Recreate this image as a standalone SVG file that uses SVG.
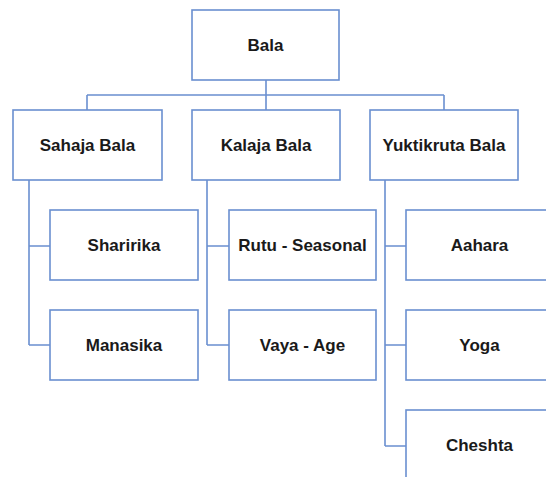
<svg xmlns="http://www.w3.org/2000/svg" width="546" height="477" viewBox="0 0 546 477">
<style>
.box{fill:#fff;stroke:#6a8fd0;stroke-width:1.6}
.lbl{font-family:"Liberation Sans",Arial,sans-serif;font-weight:700;font-size:17px;fill:#1a1a1a;text-anchor:middle;dominant-baseline:central}
.con{fill:none;stroke:#6a8fd0;stroke-width:1.6}
</style>
<rect width="546" height="477" fill="#fff"/>
<g id="connectors">
<path class="con" d="M266 80V95M87 95H444M87 95V110M266 95V110M444 95V110"/>
<path class="con" d="M29 180V345M29 246H50M29 345H50"/>
<path class="con" d="M207 180V345M207 246H229M207 345H229"/>
<path class="con" d="M385 180V446M385 246H406M385 345H406M385 446H406"/>
</g>
<g id="bala"><rect class="box" x="192" y="10" width="147" height="70"/><text class="lbl" x="265.5" y="45">Bala</text></g>
<g id="sahaja"><rect class="box" x="13" y="110" width="149" height="70"/><text class="lbl" x="87.5" y="145">Sahaja Bala</text></g>
<g id="kalaja"><rect class="box" x="192" y="110" width="148" height="70"/><text class="lbl" x="266" y="145">Kalaja Bala</text></g>
<g id="yuktikruta"><rect class="box" x="370" y="110" width="148" height="70"/><text class="lbl" x="444" y="145">Yuktikruta Bala</text></g>
<g id="sharirika"><rect class="box" x="50" y="210" width="148" height="70"/><text class="lbl" x="124" y="245">Sharirika</text></g>
<g id="manasika"><rect class="box" x="50" y="310" width="148" height="70"/><text class="lbl" x="124" y="345">Manasika</text></g>
<g id="rutu"><rect class="box" x="229" y="210" width="147" height="70"/><text class="lbl" x="302.5" y="245">Rutu - Seasonal</text></g>
<g id="vaya"><rect class="box" x="229" y="310" width="147" height="70"/><text class="lbl" x="302.5" y="345">Vaya - Age</text></g>
<g id="aahara"><rect class="box" x="406" y="210" width="147" height="70"/><text class="lbl" x="479.5" y="245">Aahara</text></g>
<g id="yoga"><rect class="box" x="406" y="310" width="147" height="70"/><text class="lbl" x="479.5" y="345">Yoga</text></g>
<g id="cheshta"><rect class="box" x="406" y="410" width="147" height="70"/><text class="lbl" x="479.5" y="445">Cheshta</text></g>
</svg>
